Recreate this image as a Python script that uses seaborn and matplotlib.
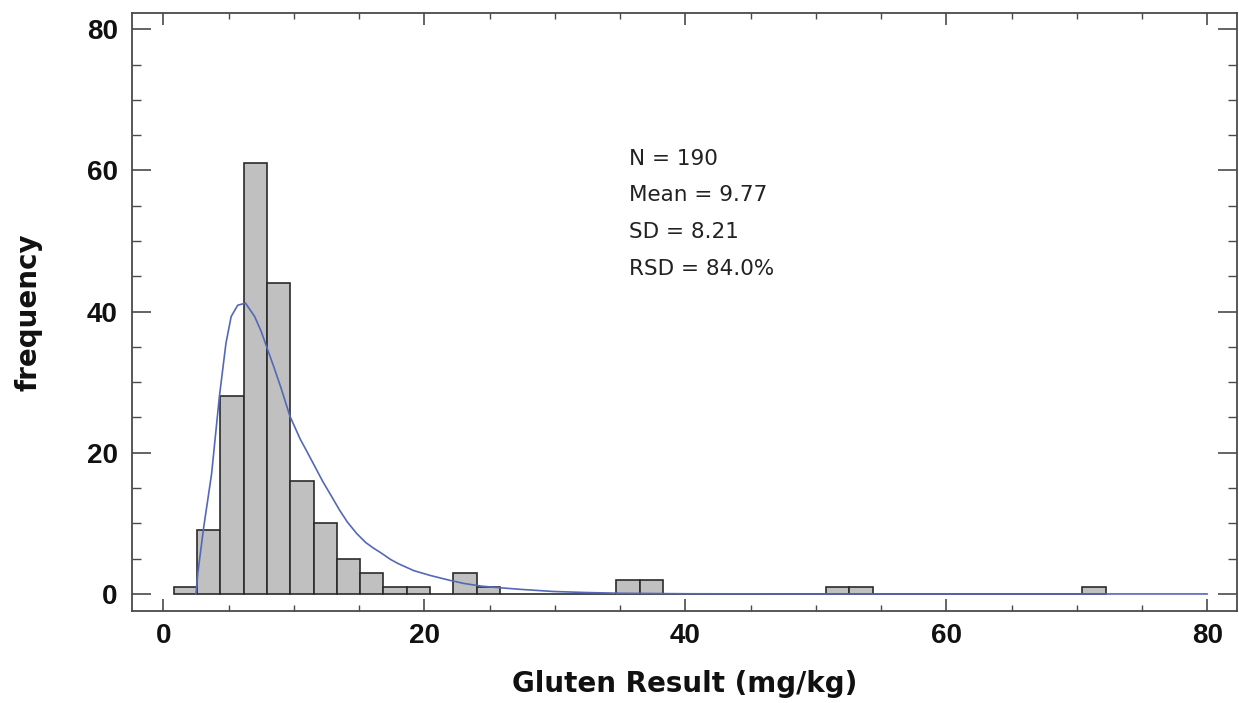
import numpy as np
import pandas as pd
import matplotlib
matplotlib.use("Agg")
import matplotlib.pyplot as plt
from matplotlib.ticker import MultipleLocator
import seaborn as sns

# Histogram of gluten results: 40 equal-width bins spanning the data range
range_min = 0.8
range_max = 72.2
bin_counts = [1, 9, 28, 61, 44, 16, 10, 5, 3, 1,
              1, 0, 3, 1, 0, 0, 0, 0, 0, 2,
              2, 0, 0, 0, 0, 0, 0, 0, 1, 1,
              0, 0, 0, 0, 0, 0, 0, 0, 0, 1]

# Fitted distribution curve (frequency scale)
fit_x = [2.5, 2.65, 3.1, 3.7, 4.3, 4.8, 5.2, 5.7, 6.3, 7.0, 7.5, 8.0, 8.5, 9.0,
         9.7, 10.5, 11.0, 11.6, 12.2, 12.9, 13.5, 14.1, 14.8, 15.5, 16.1,
         16.7, 17.4, 18.0, 18.6, 19.2, 20.5, 21.8, 23.0, 24.4, 26.0, 27.4,
         29.9, 32.5, 35.0, 40.0, 50.0, 60.0, 70.0, 80.0]
fit_y = [0.0, 3.0, 9.5, 17.0, 28.0, 35.5, 39.3, 40.9, 41.2, 39.3, 37.2, 34.6, 32.0, 29.3,
         25.2, 21.9, 20.2, 18.1, 16.0, 13.8, 11.9, 10.2, 8.6, 7.3, 6.5,
         5.8, 4.9, 4.3, 3.8, 3.3, 2.6, 2.0, 1.5, 1.1, 0.85, 0.65,
         0.35, 0.2, 0.1, 0.03, 0.0, 0.0, 0.0, 0.0]

stats_lines = ["N = 190", "Mean = 9.77", "SD = 8.21", "RSD = 84.0%"]

x_ticks = [0, 20, 40, 60, 80]
y_ticks = [0, 20, 40, 60, 80]

sns.set_theme(style="white")
plt.rcParams["font.family"] = ["Liberation Sans", "DejaVu Sans"]

n_bins = len(bin_counts)
width = (range_max - range_min) / n_bins
centers = [range_min + width * (i + 0.5) for i in range(n_bins)]
hist_df = pd.DataFrame({"value": centers, "count": bin_counts})
fit_df = pd.DataFrame({"x": fit_x, "y": fit_y})

fig = plt.figure(figsize=(12.39, 7.03), dpi=100)
ax = fig.add_axes([0.1063, 0.1309, 0.8921, 0.8511])

sns.histplot(data=hist_df, x="value", weights="count", bins=n_bins,
             binrange=(range_min, range_max),
             stat="count", color="#c0c0c0", alpha=1.0,
             edgecolor="#2b2b2b", linewidth=1.2, ax=ax)
sns.lineplot(data=fit_df, x="x", y="y", color="#5468b8", linewidth=1.2,
             ax=ax, zorder=5)

ax.set_xlim(-2.42, 82.27)
ax.set_ylim(-2.41, 82.35)
ax.set_xticks(x_ticks)
ax.set_yticks(y_ticks)
ax.xaxis.set_minor_locator(MultipleLocator(5))
ax.yaxis.set_minor_locator(MultipleLocator(5))

frame_color = "#4a4a4a"
for sp in ax.spines.values():
    sp.set_color(frame_color)
    sp.set_linewidth(1.3)

ax.tick_params(axis="x", which="major", direction="in", length=8.5, width=1.2,
               color=frame_color, top=True, bottom=True, pad=9,
               labelsize=20)
ax.tick_params(axis="x", which="minor", direction="in", length=4, width=1.0,
               color=frame_color, top=True, bottom=True)
ax.tick_params(axis="y", which="major", direction="in", length=14, width=1.2,
               color=frame_color, left=True, right=True, pad=10,
               labelsize=20)
ax.tick_params(axis="y", which="minor", direction="in", length=6.5, width=1.0,
               color=frame_color, left=True, right=True)
for lab in ax.get_xticklabels() + ax.get_yticklabels():
    lab.set_fontweight("bold")
    lab.set_color("#111111")

label_font = ["DejaVu Sans"]
ax.set_xlabel("Gluten Result (mg/kg)", fontsize=20, fontweight="bold",
              color="#111111", family=label_font)
ax.set_ylabel("frequency", fontsize=20, fontweight="bold",
              color="#111111", family=label_font)
ax.xaxis.set_label_coords(0.5, -0.098)
ax.yaxis.set_label_coords(-0.081, 0.5)

for i, line in enumerate(stats_lines):
    ax.text(35.67, 60.8 - i * 5.2, line, fontsize=15.5, family=["DejaVu Sans"],
            color="#222222", va="baseline", ha="left")

fig.savefig("out.png", dpi=100, facecolor="white")
